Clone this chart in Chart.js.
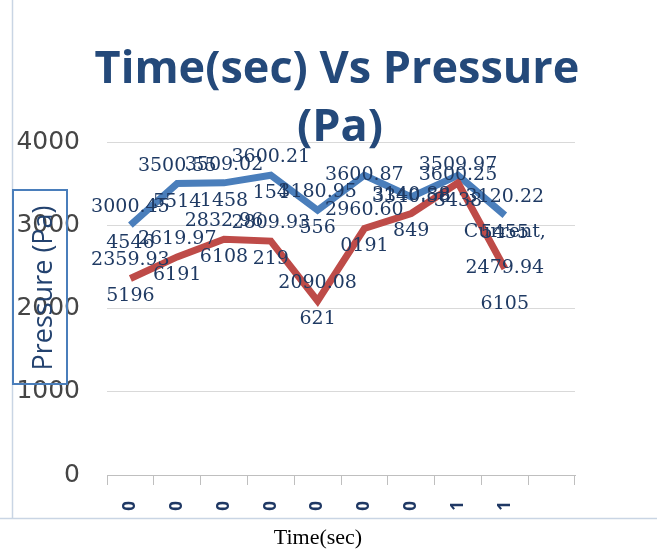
<!DOCTYPE html>
<html>
<head>
<meta charset="utf-8">
<script src="https://cdn.jsdelivr.net/npm/chart.js@4/dist/chart.umd.min.js"></script>
<style>
  html, body { margin: 0; padding: 0; background: #ffffff; }
  #wrap { width: 657px; height: 552px; position: relative; }
</style>
</head>
<body>
<div id="wrap"><canvas id="c" width="657" height="552"></canvas></div>
<script>
// ---- data ----
const timeLabels = ['0', '0', '0', '0', '0', '0', '0', '1', '1', ''];
const pressure = [3000.454546, 3500.555514, 3509.021458, 3600.21154, 3180.95556, 3600.87, 3340.58, 3600.25, 3120.225455, null];
const current  = [2359.935196, 2619.976191, 2832.966108, 2809.93219, 2090.08621, 2960.600191, 3140.88849, 3509.973438, 2479.946105, null];
const yTicks = [0, 1000, 2000, 3000, 4000];
const titleLines = ['Time(sec) Vs Pressure', '(Pa)'];
const yTitle = 'Pressure (Pa)';
const xTitle = 'Time(sec)';
const lastLabelSeries = 'Current';

function splitLabel(str) {
  const out = [];
  for (let i = 0; i < str.length; i += 7) out.push(str.slice(i, i + 7));
  return out;
}

const decor = {
  id: 'decor',
  beforeDraw(chart) {
    const ctx = chart.ctx;
    ctx.save();
    ctx.fillStyle = '#ffffff';
    ctx.fillRect(0, 0, chart.width, chart.height);
    ctx.strokeStyle = '#c9d5e4';
    ctx.lineWidth = 1.5;
    ctx.beginPath();
    ctx.moveTo(12.5, 0); ctx.lineTo(12.5, 518);
    ctx.moveTo(0, 518.5); ctx.lineTo(chart.width, 518.5);
    ctx.stroke();
    ctx.restore();
  },
  afterDraw(chart) {
    const ctx = chart.ctx;
    ctx.save();
    ctx.fillStyle = '#24497a';
    ctx.textAlign = 'center';
    ctx.textBaseline = 'middle';
    ctx.font = 'bold 45px "Open Sans"';
    ctx.fillText(titleLines[0], 337, 70);
    ctx.fillText(titleLines[1], 340, 128);
    ctx.strokeStyle = '#4a7ebb';
    ctx.lineWidth = 2;
    ctx.strokeRect(13, 190, 54, 194);
    ctx.translate(44, 288);
    ctx.rotate(-Math.PI / 2);
    ctx.fillStyle = '#23426f';
    ctx.font = '27px "Open Sans"';
    ctx.fillText(yTitle, 0, 0);
    ctx.restore();
    ctx.save();
    ctx.fillStyle = '#000000';
    ctx.font = '22px "Liberation Serif"';
    ctx.textAlign = 'center';
    ctx.textBaseline = 'middle';
    ctx.fillText(xTitle, 318, 538);
    ctx.restore();
  }
};

const dataLabels = {
  id: 'dataLabels',
  afterDatasetsDraw(chart) {
    const ctx = chart.ctx;
    ctx.save();
    ctx.fillStyle = '#1f3a63';
    ctx.font = '19px "DejaVu Serif"';
    ctx.textAlign = 'center';
    ctx.textBaseline = 'middle';
    const lh = 36;
    chart.data.datasets.forEach((ds, di) => {
      const meta = chart.getDatasetMeta(di);
      const lastIdx = ds.data.filter(x => x !== null).length - 1;
      ds.data.forEach((v, i) => {
        if (v === null || v === undefined) return;
        const pt = meta.data[i];
        let lines = splitLabel(String(v));
        if (ds.label === lastLabelSeries && i === lastIdx) {
          lines = [ds.label + ','].concat(lines);
        }
        const y0 = pt.y - (lines.length - 1) * lh / 2;
        lines.forEach((ln, k) => ctx.fillText(ln, pt.x, y0 + k * lh));
      });
    });
    ctx.restore();
  }
};

new Chart(document.getElementById('c'), {
  type: 'line',
  data: {
    labels: timeLabels,
    datasets: [
      { label: 'Pressure', data: pressure, borderColor: '#4a7ebb', borderWidth: 7, pointRadius: 0, tension: 0, borderJoinStyle: 'miter', order: 2 },
      { label: 'Current', data: current, borderColor: '#be4b48', borderWidth: 7, pointRadius: 0, tension: 0, borderJoinStyle: 'miter', order: 1 }
    ]
  },
  options: {
    responsive: false,
    animation: false,
    layout: { padding: { top: 142, right: 82, left: 0, bottom: 0 } },
    plugins: { legend: { display: false }, title: { display: false }, tooltip: { enabled: false } },
    scales: {
      x: {
        offset: true,
        grid: { offset: true, drawOnChartArea: false, color: '#bfbfbf', tickLength: 10 },
        border: { color: '#bfbfbf' },
        ticks: { minRotation: 90, maxRotation: 90, autoSkip: false, padding: 16, color: '#1f3864', font: { family: 'Open Sans', size: 17, weight: 'bold' } },
        afterFit(s) { s.height = 77; }
      },
      y: {
        min: 0, max: 4000,
        afterBuildTicks(s) { s.ticks = yTicks.map(v => ({ value: v })); },
        grid: { drawTicks: false, color: '#d9d9d9' },
        border: { display: false },
        ticks: { padding: 27, color: '#454545', font: { family: 'DejaVu Sans', size: 25 }, callback: v => String(v) },
        afterFit(s) { s.width = 107; }
      }
    }
  },
  plugins: [decor, dataLabels]
});
</script>
</body>
</html>
